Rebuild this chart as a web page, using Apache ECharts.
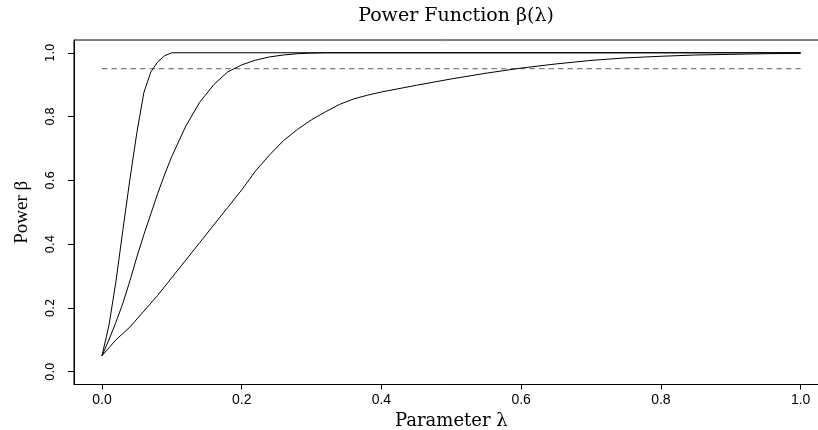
<!DOCTYPE html>
<html>
<head>
<meta charset="utf-8">
<script src="https://cdn.jsdelivr.net/npm/echarts@6/dist/echarts.min.js"></script>
<style>
html,body{margin:0;padding:0;background:#fff;}
#chart{width:818px;height:430px;}
</style>
</head>
<body>
<div id="chart"></div>
<script>
// ---- data ----
var xTicks = [0, 0.2, 0.4, 0.6, 0.8, 1.0];
var yTicks = [0, 0.2, 0.4, 0.6, 0.8, 1.0];
var alphaLevel = 0.95;

var lambdaA = [0, 0.01, 0.02, 0.03, 0.04, 0.05, 0.06, 0.07, 0.08, 0.09, 0.10, 1.0];
var powerA  = [0.05, 0.145, 0.283, 0.445, 0.603, 0.75, 0.875, 0.94, 0.972, 0.991, 1.0, 1.0];

var lambdaB = [0, 0.01, 0.02, 0.03, 0.04, 0.05, 0.06, 0.07, 0.08, 0.09, 0.10, 0.12, 0.14, 0.16, 0.18, 0.20, 0.22, 0.24, 0.26, 0.28, 0.30, 0.32, 1.0];
var powerB  = [0.05, 0.10, 0.155, 0.215, 0.285, 0.36, 0.43, 0.495, 0.56, 0.62, 0.675, 0.77, 0.845, 0.90, 0.94, 0.962, 0.977, 0.987, 0.993, 0.997, 0.999, 1.0, 1.0];

var lambdaC = [0, 0.02, 0.04, 0.06, 0.08, 0.10, 0.12, 0.14, 0.16, 0.18, 0.20, 0.22, 0.24, 0.26, 0.28, 0.30, 0.32, 0.34, 0.36, 0.38, 0.40, 0.45, 0.50, 0.55, 0.60, 0.65, 0.70, 0.75, 0.80, 0.85, 0.90, 0.95, 1.0];
var powerC  = [0.05, 0.10, 0.14, 0.19, 0.24, 0.295, 0.35, 0.405, 0.46, 0.515, 0.57, 0.63, 0.68, 0.725, 0.76, 0.79, 0.815, 0.838, 0.855, 0.867, 0.877, 0.898, 0.918, 0.936, 0.952, 0.965, 0.976, 0.984, 0.989, 0.993, 0.995, 0.997, 0.998];

function pairs(xs, ys){ return xs.map(function(x,i){ return [x, ys[i]]; }); }

var chart = echarts.init(document.getElementById('chart'), null, {renderer:'canvas'});

var curveStyle = {color:'#000', width:1};
var pad = 0.04; // R-style 4% axis expansion

var option = {
  animation: false,
  backgroundColor: '#fff',
  title: {
    text: 'Power Function β(λ)',
    left: 451, top: 2, textAlign: 'center',
    textStyle: {fontFamily: 'DejaVu Serif', fontWeight: 'normal', fontSize: 19, color: '#000'}
  },
  grid: {left: 74, top: 40, width: 754.6, height: 344.5, show: true, borderColor: '#000', borderWidth: 1,
    backgroundColor: 'transparent', containLabel: false, outerBoundsMode: 'none'},
  xAxis: {
    type: 'value', min: xTicks[0] - pad, max: xTicks[xTicks.length-1] + pad,
    axisLine: {show: true, onZero: false, lineStyle: {color: '#000', width: 1}},
    axisTick: {show: true, length: 5, customValues: xTicks, lineStyle: {color: '#000'}},
    axisLabel: {color: '#000', fontFamily: 'Liberation Sans, Arial, sans-serif', fontSize: 14, margin: 9,
      customValues: xTicks, formatter: function(v){ return v.toFixed(1); }},
    splitLine: {show: false},
    name: 'Parameter λ', nameLocation: 'middle', nameGap: 24,
    nameTextStyle: {fontFamily: 'DejaVu Serif', fontSize: 18, color: '#000'}
  },
  yAxis: {
    type: 'value', min: yTicks[0] - pad, max: yTicks[yTicks.length-1] + pad,
    axisLine: {show: true, onZero: false, lineStyle: {color: '#000', width: 1}},
    axisTick: {show: true, length: 6, customValues: yTicks, lineStyle: {color: '#000'}},
    axisLabel: {color: '#000', fontFamily: "'Liberation Sans Narrow', 'DejaVu Sans Condensed', 'Roboto Condensed', sans-serif", fontSize: 13, rotate: 90, margin: 17,
      customValues: yTicks, formatter: function(v){ return v.toFixed(1); }},
    splitLine: {show: false},
    name: 'Power β', nameLocation: 'middle', nameRotate: 90, nameGap: 42,
    nameTextStyle: {fontFamily: 'Liberation Serif', fontSize: 19, color: '#000'}
  },
  series: [
    {type:'line', data: pairs(lambdaA, powerA), symbol:'none', lineStyle: curveStyle, z: 3},
    {type:'line', data: pairs(lambdaB, powerB), symbol:'none', lineStyle: curveStyle, z: 3},
    {type:'line', data: pairs(lambdaC, powerC), symbol:'none', lineStyle: curveStyle, z: 3},
    {type:'line', data: [[xTicks[0], alphaLevel], [xTicks[xTicks.length-1], alphaLevel]], symbol:'none',
      lineStyle: {color:'#808080', width:1.2, type:[5.5,4]}, z: 2}
  ]
};
chart.setOption(option);
</script>
</body>
</html>
